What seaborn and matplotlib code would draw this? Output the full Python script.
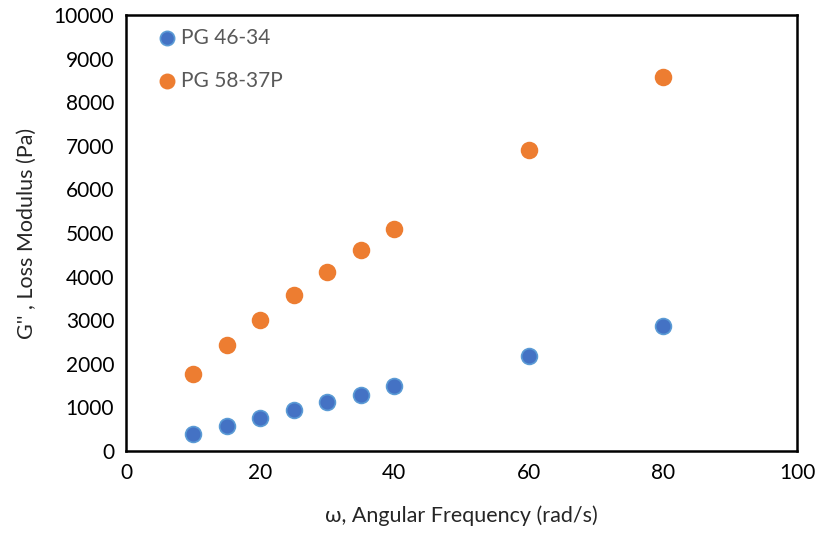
import matplotlib
matplotlib.use("Agg")
import matplotlib.pyplot as plt
import seaborn as sns
import pandas as pd

# data
freq = [10, 15, 20, 25, 30, 35, 40, 60, 80]
pg_46_34 = [390, 575, 757, 940, 1120, 1290, 1480, 2180, 2867]
pg_58_37p = [1770, 2430, 3010, 3575, 4100, 4610, 5090, 6905, 8580]

df = pd.concat([
    pd.DataFrame({"freq": freq, "G": pg_46_34, "binder": "PG 46-34"}),
    pd.DataFrame({"freq": freq, "G": pg_58_37p, "binder": "PG 58-37P"}),
])

sns.set_style("white")
plt.rcParams['font.family'] = ['Lato', 'DejaVu Sans']

fig = plt.figure(figsize=(8.2, 5.38), dpi=100)
ax = fig.add_axes([126/820, 1-451/538, (797-126)/820, (451-15)/538])

palette = {"PG 46-34": "#4472C4", "PG 58-37P": "#ED7D31"}
edges = {"PG 46-34": "#5B9BD5", "PG 58-37P": "#ED7D31"}
for name, sub in df.groupby("binder", sort=False):
    sns.scatterplot(data=sub, x="freq", y="G", ax=ax, color=palette[name],
                    edgecolor=edges[name], linewidth=1.2, s=130, label=name, zorder=3)

ax.set_xlim(0, 100)
ax.set_ylim(0, 10000)
ax.set_xticks(range(0, 101, 20))
ax.set_yticks(range(0, 10001, 1000))
ax.tick_params(direction="inout", length=10, width=1.5, labelsize=15, colors="black")
for sp in ax.spines.values():
    sp.set_linewidth(1.8)
    sp.set_color("black")

ax.set_xlabel("ω, Angular Frequency (rad/s)", fontsize=15.5, labelpad=16)
ax.set_ylabel("G'' , Loss Modulus (Pa)", fontsize=15.5, labelpad=12)

leg = ax.legend(loc="upper left", frameon=False, fontsize=15, handlelength=1.0,
                handletextpad=0.2, labelspacing=1.1, borderaxespad=0.0,
                bbox_to_anchor=(0.033, 0.99), markerscale=0.9)
for t in leg.get_texts():
    t.set_color("#595959")

fig.savefig("out.png", dpi=100)
